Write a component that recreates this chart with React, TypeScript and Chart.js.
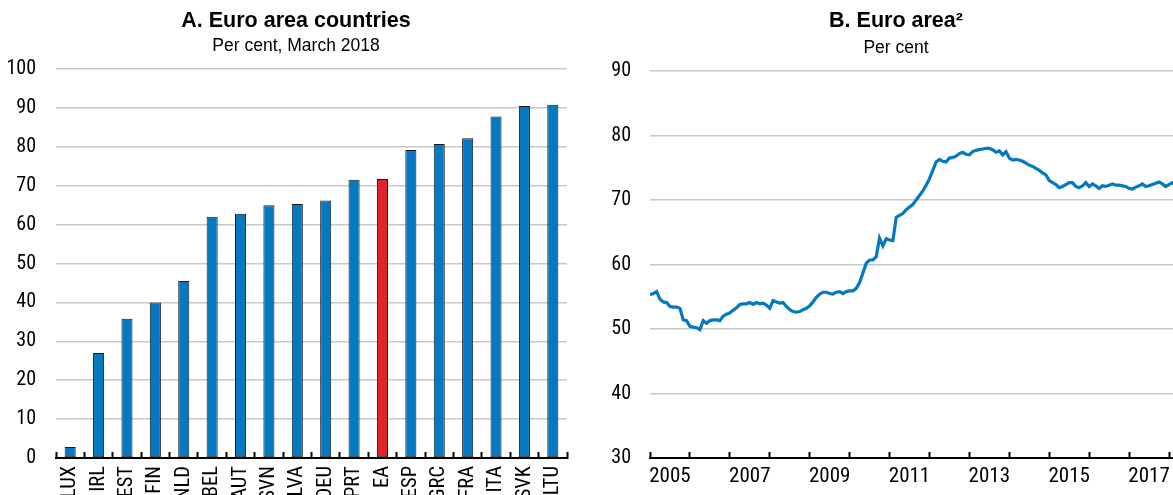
import React, { useEffect, useRef } from 'react';
import { Chart, registerables } from 'chart.js';

Chart.register(...registerables);

// ---------- Panel A data ----------
const countries = ['LUX', 'IRL', 'EST', 'FIN', 'NLD', 'BEL', 'AUT', 'SVN', 'LVA', 'DEU', 'PRT', 'EA', 'ESP', 'GRC', 'FRA', 'ITA', 'SVK', 'LTU'];
const countryShares = [2.8, 27.0, 35.8, 40.0, 45.5, 62.0, 62.8, 65.0, 65.3, 66.2, 71.5, 71.7, 79.2, 80.7, 82.2, 87.8, 90.5, 90.8];
const highlightCountry = 'EA';

// ---------- Panel B data (monthly, from January 2005) ----------
const seriesStartYear = 2005;
const euroAreaShare = [
  55.3, 55.5, 55.8, 54.6, 54.2, 54.1, 53.5, 53.4, 53.4, 53.2, 51.4, 51.3,
  50.4, 50.3, 50.2, 49.9, 51.3, 50.9, 51.3, 51.4, 51.4, 51.3, 52.0, 52.3,
  52.5, 52.9, 53.3, 53.8, 53.9, 53.9, 54.1, 53.8, 54.1, 53.9, 54.0, 53.7,
  53.2, 54.4, 54.2, 54.0, 54.1, 53.5, 53.0, 52.7, 52.6, 52.7, 53.0, 53.2,
  53.6, 54.2, 54.9, 55.4, 55.7, 55.7, 55.5, 55.4, 55.7, 55.8, 55.5, 55.8,
  55.9, 55.9, 56.3, 57.2, 58.7, 60.2, 60.7, 60.7, 61.2, 64.1, 62.9, 64.0,
  63.8, 63.7, 67.3, 67.6, 67.9, 68.5, 68.9, 69.3, 70.0, 70.7, 71.4, 72.3,
  73.3, 74.6, 75.9, 76.3, 76.0, 75.9, 76.5, 76.6, 76.8, 77.2, 77.4, 77.1,
  77.0, 77.5, 77.7, 77.8, 77.9, 78.0, 78.0, 77.8, 77.4, 77.6, 77.0, 77.5,
  76.5, 76.2, 76.3, 76.2, 76.0, 75.7, 75.4, 75.2, 74.9, 74.6, 74.2, 73.9,
  73.0, 72.7, 72.4, 71.9, 72.1, 72.4, 72.7, 72.7, 72.1, 71.9, 72.2, 72.7,
  72.1, 72.5, 72.2, 71.8, 72.2, 72.1, 72.3, 72.5, 72.3, 72.3, 72.2, 72.1,
  71.8, 71.7, 72.0, 72.2, 72.5, 72.1, 72.2, 72.4, 72.6, 72.8, 72.5, 72.1,
  72.4, 72.7, 72.3,
];
const yearTicks = [2005, 2006, 2007, 2008, 2009, 2010, 2011, 2012, 2013, 2014, 2015, 2016, 2017, 2018];
const yearLabels = ['2005', '2007', '2009', '2011', '2013', '2015', '2017'];

// ---------- Styles ----------
const BLUE = '#0479c1';
const RED = '#e0242a';
const GRID = '#c8c8c8';
const NARROW = "'Roboto Condensed', 'Liberation Sans Narrow', 'Arial Narrow', sans-serif";
const SANS = "'Liberation Sans', Arial, sans-serif";

function makeTitlePlugin(title: string, subtitle: string, cx: number, titleY: number, subY: number) {
  return {
    id: 'panelTitle',
    afterDraw(chart: any) {
      const ctx = chart.ctx;
      ctx.save();
      ctx.fillStyle = '#000';
      ctx.textAlign = 'center';
      ctx.textBaseline = 'middle';
      ctx.font = `bold 21.5px ${SANS}`;
      ctx.fillText(title, cx, titleY);
      ctx.font = `17.5px ${SANS}`;
      ctx.fillText(subtitle, cx, subY);
      ctx.restore();
    },
  };
}

function fixXAxis(height: number) {
  return (s: any) => {
    s.height = height;
    s.paddingLeft = 0;
    s.paddingRight = 0;
  };
}

function PanelA() {
  const ref = useRef<HTMLCanvasElement>(null);
  useEffect(() => {
    const chart = new Chart(ref.current!, {
      type: 'bar',
      data: {
        labels: countries,
        datasets: [
          {
            data: countryShares,
            backgroundColor: countries.map((c) => (c === highlightCountry ? RED : BLUE)),
            borderColor: '#1a1a1a',
            borderWidth: 1,
            borderSkipped: false,
            barPercentage: 0.39,
            categoryPercentage: 1,
          },
        ],
      },
      options: {
        responsive: false,
        animation: false,
        layout: { padding: { left: 0, right: 2, top: 69, bottom: 0 } },
        plugins: { legend: { display: false }, tooltip: { enabled: false } },
        scales: {
          x: {
            type: 'category',
            offset: true,
            grid: {
              offset: true,
              display: true,
              drawOnChartArea: false,
              drawTicks: true,
              tickLength: -6,
              tickWidth: 2,
              tickColor: '#000',
            },
            border: { display: true, color: '#000', width: 2 },
            ticks: {
              autoSkip: false,
              minRotation: 90,
              maxRotation: 90,
              padding: 14,
              color: '#000',
              font: { family: NARROW, size: 20.5 },
            },
            afterFit: fixXAxis(37),
          },
          y: {
            min: 0,
            max: 100,
            ticks: { stepSize: 10, padding: 20, color: '#000', font: { family: NARROW, size: 20 } },
            grid: { color: GRID, lineWidth: 1.5, drawTicks: false },
            border: { display: false },
            afterFit: (s: any) => {
              s.width = 56;
            },
          },
        },
      },
      plugins: [makeTitlePlugin('A. Euro area countries', 'Per cent, March 2018', 296, 21, 46.5)],
    });
    return () => chart.destroy();
  }, []);
  return <canvas ref={ref} width={569} height={495} style={{ position: 'absolute', left: 0, top: 0 }} />;
}

function PanelB() {
  const ref = useRef<HTMLCanvasElement>(null);
  useEffect(() => {
    const points = euroAreaShare.map((v, i) => ({ x: seriesStartYear + i / 12, y: v }));
    const tickValues: number[] = [];
    yearTicks.forEach((y) => {
      tickValues.push(y);
      if (yearLabels.includes(String(y))) tickValues.push(y + 0.5);
    });
    const chart = new Chart(ref.current!, {
      type: 'line',
      data: {
        datasets: [
          {
            data: points,
            borderColor: BLUE,
            borderWidth: 3.2,
            pointRadius: 0,
            tension: 0,
            fill: false,
          },
        ],
      },
      options: {
        responsive: false,
        animation: false,
        layout: { padding: { left: 0, right: 0, top: 71, bottom: 0 } },
        plugins: { legend: { display: false }, tooltip: { enabled: false } },
        scales: {
          x: {
            type: 'linear',
            min: 2005,
            max: 2018.1,
            afterBuildTicks: (s: any) => {
              s.ticks = tickValues.map((v) => ({ value: v }));
            },
            grid: {
              display: true,
              drawOnChartArea: false,
              drawTicks: true,
              tickLength: -6,
              tickWidth: 2,
              tickColor: (ctx: any) =>
                ctx.tick && Number.isInteger(ctx.tick.value) ? '#000' : 'rgba(0,0,0,0)',
            },
            border: { display: true, color: '#000', width: 2 },
            ticks: {
              autoSkip: false,
              minRotation: 0,
              maxRotation: 0,
              padding: 12,
              color: '#000',
              font: { family: NARROW, size: 21 },
              callback: (v: any) => {
                const n = Number(v);
                const base = Math.floor(n);
                return n - base === 0.5 && yearLabels.includes(String(base)) ? String(base) : '';
              },
            },
            afterFit: fixXAxis(37),
          },
          y: {
            min: 30,
            max: 90,
            ticks: { stepSize: 10, padding: 19, color: '#000', font: { family: NARROW, size: 20 } },
            grid: { color: GRID, lineWidth: 1.5, drawTicks: false },
            border: { display: false },
            afterFit: (s: any) => {
              s.width = 70;
            },
          },
        },
      },
      plugins: [makeTitlePlugin('B. Euro area²', 'Per cent', 316, 21, 48.5)],
    });
    return () => chart.destroy();
  }, []);
  return <canvas ref={ref} width={593} height={495} style={{ position: 'absolute', left: 580, top: 0 }} />;
}

export default function App() {
  return (
    <div style={{ position: 'absolute', left: 0, top: 0, width: 1173, height: 495, background: '#fff', overflow: 'hidden' }}>
      <PanelA />
      <PanelB />
    </div>
  );
}
